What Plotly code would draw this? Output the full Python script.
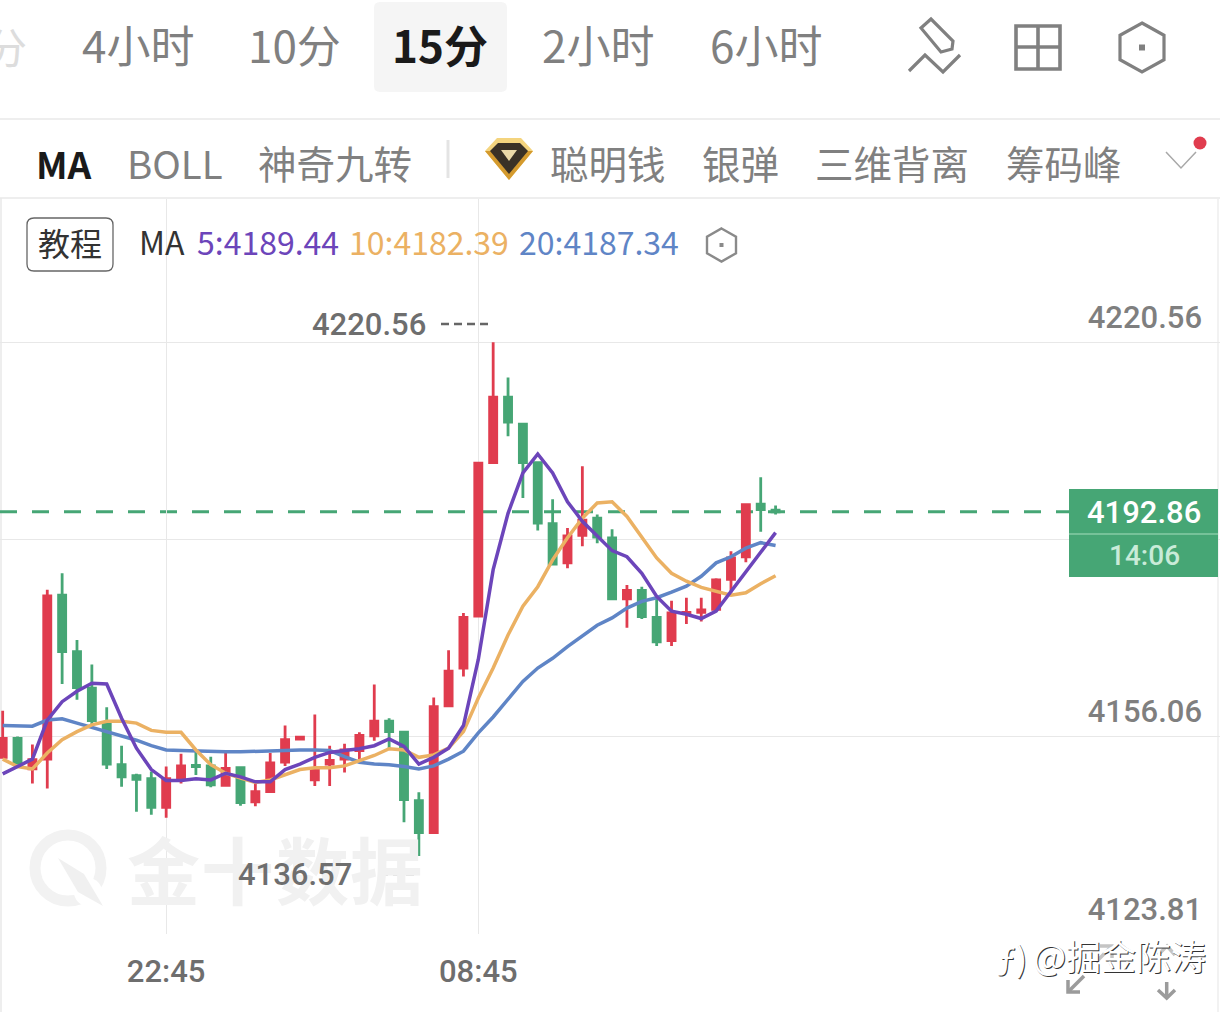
import plotly.graph_objects as go

times = ["20:00","20:15","20:30","20:45","21:00","21:15","21:30","21:45","22:00","22:15","22:30","22:45",
         "23:00","23:15","23:30","23:45","00:00","00:15","00:30","00:45","01:00",
         "06:00","06:15","06:30","06:45","07:00","07:15","07:30","07:45","08:00","08:15","08:30","08:45",
         "09:00","09:15","09:30","09:45","10:00","10:15","10:30","10:45","11:00","11:15","11:30","11:45",
         "12:00","12:15","12:30","12:45","13:00","13:15","13:30","13:45"]
opens = [4152.7,4155.8,4150.8,4152.4,4179.2,4170.0,4164.0,4158.3,4151.5,4149.7,4149.2,4144.5,4149.3,4151.4,4151.3,4148.1,4151.0,4145.4,
         4147.1,4151.9,4155.7,4149.0,4151.6,4152.4,4153.8,4156.2,4158.6,4156.8,4145.6,4140.4,4161.1,4167.3,4175.8,4200.9,4211.6,4207.2,
         4200.9,4190.9,4184.5,4189.0,4191.8,4188.6,4178.6,4180.0,4175.6,4171.8,4176.2,4176.4,4176.9,4181.8,4185.5,4194.1,4193.1]
highs = [4160.3,4156.1,4154.8,4180.1,4182.8,4171.9,4167.9,4160.9,4154.6,4150.0,4150.4,4151.2,4153.3,4153.7,4152.8,4153.4,4151.1,4148.4,
         4153.4,4157.9,4156.0,4159.7,4154.6,4154.9,4156.8,4164.6,4159.1,4156.8,4147.0,4162.5,4170.2,4176.3,4200.9,4220.56,4214.8,4207.2,
         4201.1,4194.9,4190.2,4200.3,4192.4,4190.0,4180.9,4180.6,4179.0,4178.3,4178.8,4178.8,4182.0,4186.4,4194.2,4198.5,4193.9]
lows = [4152.7,4151.5,4148.4,4147.6,4164.7,4162.1,4158.0,4150.8,4147.9,4143.8,4143.3,4142.8,4148.4,4149.8,4147.8,4148.1,4144.8,4144.7,
        4147.1,4151.3,4155.7,4148.0,4148.0,4150.2,4152.4,4155.4,4154.2,4142.1,4136.57,4140.2,4161.0,4165.9,4175.7,4200.9,4205.2,4195.1,
        4189.8,4184.3,4183.6,4187.2,4187.7,4178.6,4173.9,4175.3,4170.9,4170.9,4174.5,4174.9,4176.5,4179.6,4184.6,4189.6,4192.4]
closes = [4155.8,4151.8,4152.3,4179.1,4170.0,4164.1,4158.7,4151.6,4149.5,4149.1,4144.5,4149.2,4151.3,4151.2,4148.2,4150.9,4145.3,4147.1,
          4151.8,4155.6,4156.0,4150.7,4152.2,4153.9,4156.3,4158.6,4156.9,4145.8,4140.4,4161.0,4166.8,4175.6,4200.8,4211.6,4207.5,4200.9,
          4191.0,4184.3,4188.9,4191.5,4188.7,4178.6,4180.0,4175.7,4171.6,4176.3,4176.4,4176.8,4181.7,4185.3,4194.0,4193.2,4192.86]
ma5 = [4150.0,4151.2,4152.4,4158.8,4161.8,4163.5,4164.8,4164.7,4159.1,4154.2,4150.7,4148.9,4148.9,4149.2,4149.0,4150.1,4149.5,4148.7,
       4148.7,4150.7,4151.6,4152.7,4153.5,4153.8,4154.1,4154.6,4155.7,4154.5,4151.6,4152.7,4154.2,4157.9,4168.7,4183.4,4192.6,4199.2,
       4202.3,4199.2,4194.5,4191.3,4188.8,4186.5,4185.5,4182.8,4179.0,4176.6,4176.1,4175.4,4176.6,4179.8,4183.1,4186.4,4189.44]
ma10 = [4152.4,4151.2,4150.8,4153.4,4155.6,4156.9,4158.0,4158.6,4158.6,4158.3,4157.1,4156.8,4156.8,4153.9,4151.5,4150.1,4149.3,4148.6,
        4149.0,4149.8,4150.7,4151.0,4151.0,4151.3,4152.2,4153.0,4154.1,4153.9,4152.7,4153.1,4154.2,4156.9,4162.4,4167.3,4172.7,4177.4,
        4180.6,4185.0,4188.6,4191.8,4194.3,4194.5,4192.1,4188.6,4185.3,4182.8,4181.5,4180.5,4179.9,4179.2,4179.6,4181.1,4182.39]
ma20 = [4157.9,4157.9,4157.8,4158.8,4159.0,4158.3,4157.6,4156.8,4156.1,4155.5,4154.6,4153.9,4153.8,4153.7,4153.6,4153.6,4153.6,4153.7,
        4153.7,4153.8,4153.9,4153.9,4153.8,4152.8,4151.9,4151.6,4151.5,4151.2,4150.8,4151.3,4152.4,4153.7,4156.7,4159.3,4162.1,4165.1,
        4167.3,4168.9,4170.8,4172.6,4174.3,4175.5,4177.1,4178.2,4178.8,4179.7,4180.7,4182.3,4184.5,4185.5,4186.9,4187.8,4187.34]

y_ticks = [4123.81, 4156.06, 4188.31, 4220.56]
y_tick_text = ["4123.81", "4156.06", "", "4220.56"]
x_ticks = ["22:45", "08:45"]
last_price = 4192.86
high_label = "4220.56"
low_label = "4136.57"
countdown = "14:06"
tabs = ["4小时", "10分", "15分", "2小时", "6小时"]
indicators = ["BOLL", "神奇九转", "聪明钱", "银弹", "三维背离", "筹码峰"]

RED, GREEN = "#E03C4E", "#46A675"
PURPLE, ORANGE, BLUE = "#6C45BA", "#EBB163", "#5F85C6"
GRID, GRAY = "#E8E8E8", "#808080"
CJK = "Noto Sans CJK SC"
NUM = "Roboto"
W, TOP, BOT = 1220.0, 199.0, 934.0


def px(x):
    return x / W


def py(y):
    return (BOT - y) / (BOT - TOP)


def poly(points, closed=True):
    d = " ".join(("M" if i == 0 else "L") + f"{px(x):.5f},{py(y):.5f}" for i, (x, y) in enumerate(points))
    return d + (" Z" if closed else "")


shapes = []


def path(points, fill=None, line=None, width=0, closed=True, layer="above"):
    shapes.append(dict(type="path", xref="paper", yref="paper", path=poly(points, closed), layer=layer,
                       fillcolor=fill if fill else "rgba(0,0,0,0)",
                       line=dict(color=line if line else "rgba(0,0,0,0)", width=width)))


def seg(x0, y0, x1, y1, color, width, layer="above", dash=None):
    shapes.append(dict(type="line", xref="paper", yref="paper", x0=px(x0), x1=px(x1), y0=py(y0), y1=py(y1),
                       layer=layer, line=dict(color=color, width=width, dash=dash or "solid")))


def rrect(x0, y0, x1, y1, r, fill=None, line=None, width=0, layer="above"):
    d = (f"M{px(x0+r):.5f},{py(y0):.5f} L{px(x1-r):.5f},{py(y0):.5f} Q{px(x1):.5f},{py(y0):.5f} {px(x1):.5f},{py(y0+r):.5f} "
         f"L{px(x1):.5f},{py(y1-r):.5f} Q{px(x1):.5f},{py(y1):.5f} {px(x1-r):.5f},{py(y1):.5f} "
         f"L{px(x0+r):.5f},{py(y1):.5f} Q{px(x0):.5f},{py(y1):.5f} {px(x0):.5f},{py(y1-r):.5f} "
         f"L{px(x0):.5f},{py(y0+r):.5f} Q{px(x0):.5f},{py(y0):.5f} {px(x0+r):.5f},{py(y0):.5f} Z")
    shapes.append(dict(type="path", xref="paper", yref="paper", path=d, layer=layer,
                       fillcolor=fill if fill else "rgba(0,0,0,0)",
                       line=dict(color=line if line else "rgba(0,0,0,0)", width=width)))


def circ(cx, cy, r, fill=None, line=None, width=0, layer="above"):
    shapes.append(dict(type="circle", xref="paper", yref="paper", x0=px(cx-r), x1=px(cx+r), y0=py(cy+r), y1=py(cy-r),
                       layer=layer, fillcolor=fill if fill else "rgba(0,0,0,0)",
                       line=dict(color=line if line else "rgba(0,0,0,0)", width=width)))


def hexagon(cx, cy, rx, ry, color, width, dot):
    path([(cx, cy-ry), (cx+rx, cy-ry/2), (cx+rx, cy+ry/2), (cx, cy+ry), (cx-rx, cy+ry/2), (cx-rx, cy-ry/2)],
         line=color, width=width)
    path([(cx-dot, cy-dot), (cx+dot, cy-dot), (cx+dot, cy+dot), (cx-dot, cy+dot)], fill=color)


annotations = []


def txt(x, y, text, size, color, anchor="center", family=CJK, weight=None, shadow=None):
    font = dict(family=family, size=size, color=color)
    if weight:
        font["weight"] = weight
    if shadow:
        font["shadow"] = shadow
    annotations.append(dict(x=px(x), y=py(y), xref="paper", yref="paper", text=text, showarrow=False,
                            xanchor=anchor, yanchor="middle", font=font, borderpad=0, borderwidth=0))


# page chrome
rrect(374, 2, 507, 92, 6, fill="#F5F5F5", layer="below")
seg(0, 119, W, 119, "#E8E8E8", 1.5, "below")
seg(0, 198, W, 198, "#E8E8E8", 1.5, "below")
seg(1, 198, 1, 1012, "#E8E8E8", 1.5, "below")
seg(1218, 198, 1218, 1012, "#EEEEEE", 1.5, "below")
seg(448, 140, 448, 178, "#E4E4E4", 3, "below")

# toolbar icons
path([(931, 19), (921, 28), (941, 52), (952, 49), (953, 41)], line=GRAY, width=3.2)
path([(909, 71), (925, 55), (943, 72), (960, 55)], line=GRAY, width=3.2, closed=False)
path([(1016, 26), (1060, 26), (1060, 69), (1016, 69)], line=GRAY, width=3.6)
seg(1038, 26, 1038, 69, GRAY, 3.6)
seg(1016, 47, 1060, 47, GRAY, 3.6)
hexagon(1142, 47.5, 22, 24.5, GRAY, 3.2, 3)
hexagon(721.5, 245, 14.5, 16.5, "#8A8A8A", 2.4, 2)

# gem icon
path([(497, 138), (521, 138), (533, 151), (509, 180), (485, 151)], fill="#F4D47E")
path([(533, 151), (509, 180), (485, 151), (491, 151), (509, 172), (527, 151)], fill="#D49A2E")
path([(498, 143), (520, 143), (528, 151), (509, 174), (490, 151)], fill="#3A3126")
path([(501, 150), (517, 150), (509, 161)], fill="#EBD9A8")

# indicator row extras
path([(1166, 152), (1181, 168), (1196, 152)], line="#A8A8A8", width=1.5, closed=False)
circ(1200, 143, 6.5, fill=RED)
rrect(27, 218, 113, 271, 7, line="#666666", width=1.3)

# watermark logo
circ(68, 868, 33, line="#F2F2F2", width=11, layer="below")
circ(88, 892, 14, fill="#FFFFFF", layer="below")
path([(58, 858), (84, 874), (103, 906), (78, 892)], fill="#F0F0F0", layer="below")

# price box
path([(1069, 489), (1218, 489), (1218, 577), (1069, 577)], fill=GREEN)
seg(1069, 534, 1218, 534, "#A5DDBE", 1.2)

# high and low markers
seg(441, 324, 488, 324, "#666666", 2.5, dash="8px,5px")
seg(367, 874, 414, 874, "#666666", 2.5, dash="8px,5px")

# corner arrows
ARROW = "#9B9B9B"
path([(1084, 976), (1068, 992)], line=ARROW, width=3.5, closed=False)
path([(1068, 980), (1068, 992), (1080, 992)], line=ARROW, width=3.5, closed=False)
path([(1166.7, 982), (1166.7, 998)], line=ARROW, width=3.5, closed=False)
path([(1158, 990), (1166.7, 998), (1175, 990)], line=ARROW, width=3.5, closed=False)
path([(1096, 962), (1112, 946)], line="#C4C4C4", width=3.5, closed=False)
path([(1100, 946), (1112, 946), (1112, 958)], line="#C4C4C4", width=3.5, closed=False)
path([(1158, 955), (1167, 946), (1175, 955)], line="#C4C4C4", width=3.5, closed=False)

# dashed last price line, tied to the price axis
shapes.append(dict(type="line", xref="paper", yref="y", x0=0, x1=px(1069), y0=last_price, y1=last_price,
                   layer="below", line=dict(color=GREEN, width=3, dash="17px,15px")))

# watermark text (first so all other text stays on top)
for wx, ch in zip([163, 237, 312, 386], "金十数据"):
    txt(wx, 867, ch, 73, "#F1F1F1", weight=700)

# tabs
txt(6, 45, "分", 42, "#DDDDDD")
for cx, t in zip([137.5, 294.5, 439.5, 597.5, 766], tabs):
    active = t == "15分"
    txt(cx, 44, t, 44, "#1A1A1A" if active else GRAY, weight=700 if active else None)

txt(64, 163, "MA", 37, "#1A1A1A", weight=700)
for cx, t in zip([175, 334.5, 607.5, 740, 891.5, 1063.5], indicators):
    txt(cx, 162, t, 38.5, GRAY)

txt(70, 242, "教程", 32, "#333333")
txt(139, 241, "MA", 32, "#333333", "left")
txt(197, 241, "5:4189.44", 32, PURPLE, "left")
txt(349, 241, "10:4182.39", 32, ORANGE, "left")
txt(519, 241, "20:4187.34", 32, BLUE, "left")

txt(312, 324, high_label, 31, "#6E6E6E", "left", NUM, 500)
txt(238, 874, low_label, 31, "#6E6E6E", "left", NUM, 500)
txt(1144, 512, f"{last_price:.2f}", 31, "#FFFFFF", family=NUM, weight=500)
txt(1144, 555, countdown, 28, "#C9EBD8", family=NUM, weight=500)

OUTLINE = "1px 1px 0 #333333"
txt(1012, 957, "ƒ)", 34, "#FFFFFF", shadow=OUTLINE)
txt(1033, 954, "@掘金陈涛", 35, "#FFFFFF", "left", shadow=OUTLINE)

fig = go.Figure()
fig.add_trace(go.Candlestick(
    x=times, open=opens, high=highs, low=lows, close=closes,
    increasing=dict(line=dict(color=RED, width=2.8), fillcolor=RED),
    decreasing=dict(line=dict(color=GREEN, width=2.8), fillcolor=GREEN),
    whiskerwidth=0, hoverinfo="skip", showlegend=False))
for name, vals, color in [("MA20", ma20, BLUE), ("MA10", ma10, ORANGE), ("MA5", ma5, PURPLE)]:
    fig.add_trace(go.Scatter(x=times, y=vals, mode="lines", name=name,
                             line=dict(color=color, width=3.5), hoverinfo="skip", showlegend=False))

fig.update_layout(
    width=1220, height=1012, autosize=False,
    margin=dict(l=0, r=0, t=199, b=78, pad=0),
    paper_bgcolor="#FFFFFF", plot_bgcolor="#FFFFFF",
    boxgap=0.32, showlegend=False, hovermode=False,
    shapes=shapes, annotations=annotations,
    xaxis=dict(type="category", categoryorder="array", categoryarray=times,
               range=[-0.18, 81.9], rangeslider=dict(visible=False),
               tickmode="array", tickvals=x_ticks, ticktext=x_ticks,
               showgrid=True, gridcolor=GRID, gridwidth=1, zeroline=False,
               showline=False, ticks="outside", ticklen=10, tickcolor="rgba(0,0,0,0)",
               tickfont=dict(family=NUM, size=31, color="#6E6E6E", weight=500)),
    yaxis=dict(range=[4123.81, 4244.0], side="right",
               tickmode="array", tickvals=y_ticks, ticktext=y_tick_text,
               showgrid=True, gridcolor=GRID, gridwidth=1, zeroline=False,
               showline=False, ticks="inside", ticklen=18, tickcolor="rgba(0,0,0,0)",
               ticklabelposition="inside top", ticklabelstandoff=15, ticklabelshift=-3,
               tickfont=dict(family=NUM, size=31, color="#7F7F7F", weight=500)),
)
fig.write_html("out.html", config=dict(displayModeBar=False),
               post_script="document.body.style.margin='0';document.body.style.overflow='hidden';")
